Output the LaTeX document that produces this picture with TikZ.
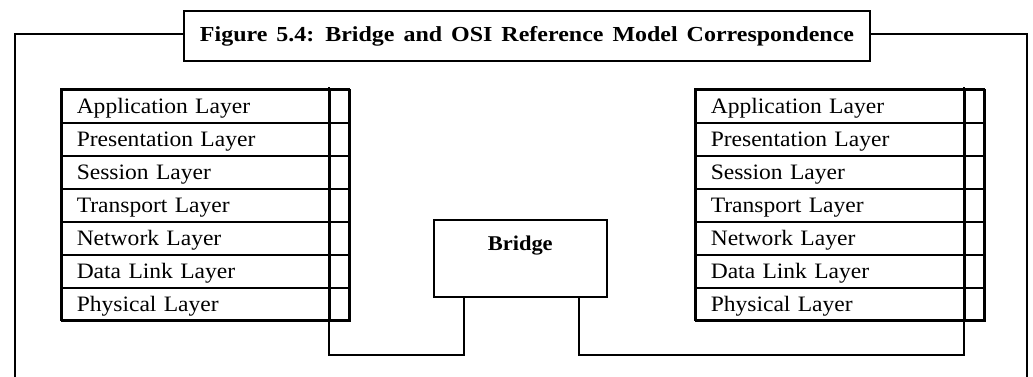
\documentclass[tikz,border=0pt]{standalone}
\usepackage{fontspec}
\setmainfont{Liberation Serif}
\newfontfamily\layerfont[FakeStretch=1.07]{Liberation Serif}
\newfontfamily\titlefont[FakeStretch=1.12,WordSpace=1.5]{Liberation Serif}
\newfontfamily\bridgefont[FakeStretch=1.07]{Liberation Serif}
\begin{document}
\begin{tikzpicture}[x=1pt,y=-1pt,
  frame/.style={line width=2pt},
  layer/.style={draw, line width=1.5pt, anchor=north west, minimum height=33pt,
     inner xsep=15pt, inner ysep=0pt, align=left, text height=17.5pt, text depth=2.5pt,
     font=\layerfont\fontsize{22}{24}\selectfont},
  cell/.style={draw, line width=1.5pt, anchor=north west, minimum width=20pt, minimum height=33pt, inner sep=0pt},
  conn/.style={line width=1.3pt},
  stackbox/.style={draw, line width=2pt}]
\useasboundingbox (0,0) rectangle (1033,376);
\clip (0,0) rectangle (1033,376);
% outer frame
\draw[frame] (15,34) rectangle (1027,420);
% title
\node[draw, frame, fill=white, anchor=north west, minimum width=686pt, minimum height=50pt,
  inner xsep=0pt, inner ysep=0pt, text height=30pt, text depth=20pt,
  font=\titlefont\fontsize{21.4}{24}\selectfont\bfseries] (title) at (183,10)
  {Figure 5.4: Bridge and OSI Reference Model Correspondence};
% left stack
\foreach \t [count=\i from 0] in {Application Layer,Presentation Layer,Session Layer,Transport Layer,Network Layer,Data Link Layer,Physical Layer}{
  \node[layer, text width=238pt] (L\i) at (61,89+\i*33) {\t};
  \node[cell] (LC\i) at (329,89+\i*33) {};
}
\draw[stackbox] (61,89) rectangle (349,320);
% right stack
\foreach \t [count=\i from 0] in {Application Layer,Presentation Layer,Session Layer,Transport Layer,Network Layer,Data Link Layer,Physical Layer}{
  \node[layer, text width=239pt] (R\i) at (695,89+\i*33) {\t};
  \node[cell] (RC\i) at (964,89+\i*33) {};
}
\draw[stackbox] (695,89) rectangle (984,320);
% bridge
\node[draw, line width=1.5pt, anchor=north west, minimum width=173pt, minimum height=77pt,
  inner sep=0pt, text height=31pt, text depth=46pt,
  font=\bridgefont\fontsize{21}{24}\selectfont\bfseries] (bridge) at (433,219) {Bridge};
% connectors
\coordinate (ltop) at (329,87);
\coordinate (lbot) at (329,355);
\coordinate (rtop) at (964,87);
\coordinate (rbot) at (964,355);
\coordinate (bl) at (464,296);
\coordinate (br) at (579,296);
\draw[conn] (ltop) -- (lbot) -| (bl);
\draw[conn] (rtop) -- (rbot) -| (br);
\end{tikzpicture}
\end{document}
